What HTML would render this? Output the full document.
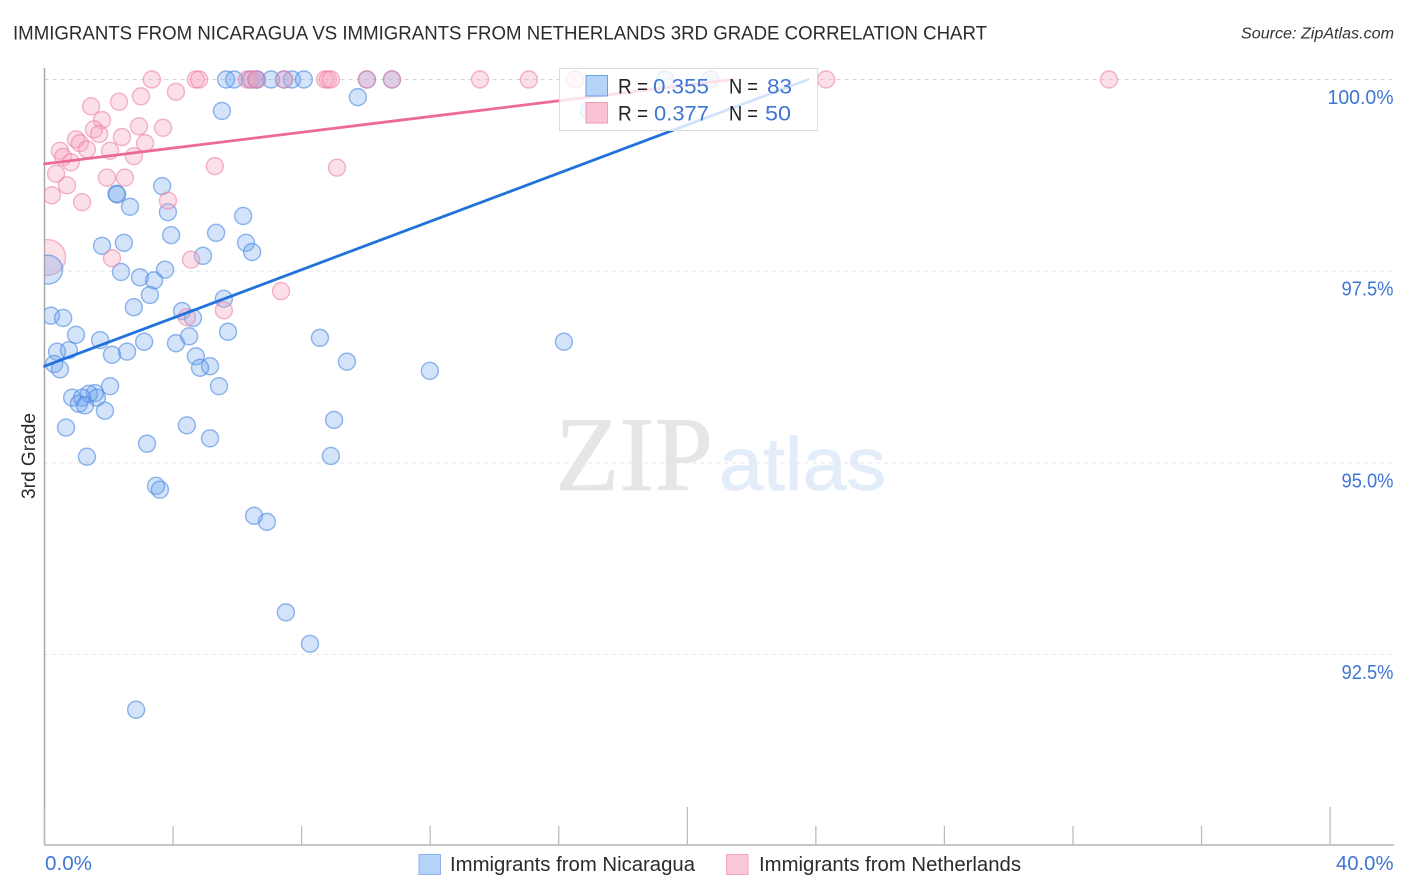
<!DOCTYPE html>
<html lang="en">
<head>
<meta charset="utf-8">
<title>Immigrants from Nicaragua vs Immigrants from Netherlands 3rd Grade Correlation Chart</title>
<style>
  html, body { margin: 0; padding: 0; background: #fff; }
  svg { display: block; font-family: "Liberation Sans", sans-serif; }
</style>
</head>
<body>
<svg id="chart" width="1406" height="892" viewBox="0 0 1406 892" xmlns="http://www.w3.org/2000/svg">
  <defs>
    <clipPath id="plot-clip"><rect x="44.5" y="60" width="1350" height="785"/></clipPath>
  </defs>
  <rect width="1406" height="892" fill="#ffffff"/>
  <text x="13" y="39.5" font-size="19.5" fill="#2b2b2b" textLength="974" lengthAdjust="spacingAndGlyphs">IMMIGRANTS FROM NICARAGUA VS IMMIGRANTS FROM NETHERLANDS 3RD GRADE CORRELATION CHART</text>
  <text x="1241" y="38.5" font-size="15.5" font-style="italic" fill="#333333" textLength="153" lengthAdjust="spacingAndGlyphs">Source: ZipAtlas.com</text>

  <g>
    <text x="555" y="490" font-family="'Liberation Serif', serif" font-size="106" fill="#e6e6e6" stroke="#e6e6e6" stroke-width="0.8" textLength="158" lengthAdjust="spacingAndGlyphs">ZIP</text>
    <text x="719" y="490" font-size="75" fill="#e3edf9" stroke="#e3edf9" stroke-width="0.8" textLength="167" lengthAdjust="spacingAndGlyphs">atlas</text>
  </g>

  <g id="grid"></g>
  <g id="axes"></g>
  <g id="points" clip-path="url(#plot-clip)"></g>
  <g id="trends"></g>

  <text transform="translate(35 499) rotate(-90)" font-size="19.5" fill="#2b2b2b" textLength="86" lengthAdjust="spacingAndGlyphs">3rd Grade</text>

  <g>
    <rect x="559.5" y="68.5" width="258" height="62" fill="#ffffff" fill-opacity="0.8" stroke="#dcdcdc" stroke-width="1"/>
    <rect x="586" y="75.5" width="21.5" height="20.5" fill="#a9cbf7" fill-opacity="0.85" stroke="#6f9fe3" stroke-width="1"/>
    <rect x="586" y="102.5" width="21.5" height="20.5" fill="#f9b9cd" fill-opacity="0.85" stroke="#f29ab7" stroke-width="1"/>
    <g font-size="21">
      <text x="618" y="93.5" fill="#222222" textLength="30" lengthAdjust="spacingAndGlyphs">R =</text>
      <text x="653" y="93.5" fill="#3f76d4" textLength="56" lengthAdjust="spacingAndGlyphs">0.355</text>
      <text x="729" y="93.5" fill="#222222" textLength="29" lengthAdjust="spacingAndGlyphs">N =</text>
      <text x="767" y="93.5" fill="#3f76d4" textLength="25" lengthAdjust="spacingAndGlyphs">83</text>
      <text x="618" y="120.5" fill="#222222" textLength="30" lengthAdjust="spacingAndGlyphs">R =</text>
      <text x="654" y="120.5" fill="#3f76d4" textLength="55" lengthAdjust="spacingAndGlyphs">0.377</text>
      <text x="729" y="120.5" fill="#222222" textLength="29" lengthAdjust="spacingAndGlyphs">N =</text>
      <text x="765" y="120.5" fill="#3f76d4" textLength="26" lengthAdjust="spacingAndGlyphs">50</text>
    </g>
  </g>

  <g>
    <rect x="419" y="854.5" width="21.5" height="20" fill="#b5d2f9" stroke="#8db4ec" stroke-width="1"/>
    <text x="450" y="871" font-size="20" fill="#2b2b2b" textLength="245" lengthAdjust="spacingAndGlyphs">Immigrants from Nicaragua</text>
    <rect x="726.5" y="854.5" width="21.5" height="20" fill="#fbc8d8" stroke="#f3a3bd" stroke-width="1"/>
    <text x="759" y="871" font-size="20" fill="#2b2b2b" textLength="262" lengthAdjust="spacingAndGlyphs">Immigrants from Netherlands</text>
  </g>
</svg>
<script>
const nicaraguaX = [5.65,5.90,6.39,6.58,6.61,7.05,7.45,7.70,8.07,10.03,10.81,19.31,20.71,5.52,9.75,16.94,3.66,2.24,2.26,2.66,3.84,6.18,3.94,5.34,1.79,2.47,6.27,6.46,4.93,2.38,3.75,2.97,3.41,3.28,2.78,5.58,4.28,0.20,0.58,0.98,1.73,0.39,0.76,0.30,0.48,2.10,2.57,3.10,4.62,4.09,4.50,5.71,4.71,5.15,4.84,5.43,2.04,0.86,1.57,1.38,1.63,1.17,1.07,1.26,1.88,0.67,1.32,3.19,4.43,5.15,3.47,3.59,6.52,6.92,7.51,8.26,2.85,8.57,9.41,11.99,16.16,9.01,8.91];
const nicaraguaY = [100,100,100,100,100,100,100,100,100,100,100,100,100,99.59,99.77,99.59,98.61,98.51,98.50,98.34,98.27,98.22,97.97,98.00,97.83,97.87,97.87,97.75,97.70,97.49,97.52,97.42,97.38,97.19,97.03,97.14,96.98,96.92,96.89,96.67,96.60,96.45,96.47,96.29,96.22,96.41,96.45,96.58,96.89,96.56,96.65,96.71,96.39,96.26,96.24,96.00,96.00,95.85,95.91,95.90,95.85,95.85,95.77,95.75,95.68,95.46,95.08,95.25,95.49,95.32,94.70,94.65,94.31,94.23,93.05,92.64,91.78,96.63,96.32,96.20,96.58,95.56,95.09];
const netherlandsX = [3.34,4.71,4.81,6.30,6.46,6.61,7.45,8.73,8.82,8.91,10.03,10.81,13.55,15.07,16.51,24.32,33.12,4.09,3.00,2.32,1.45,1.79,1.54,1.70,2.94,3.69,2.41,0.98,1.10,1.32,3.13,2.04,2.78,0.48,0.58,0.82,5.30,0.36,1.94,2.50,0.70,0.23,1.17,3.84,2.10,4.56,7.36,5.58,4.43,9.10];
const netherlandsY = [100,100,100,100,100,100,100,100,100,100,100,100,100,100,100,100,100,99.84,99.78,99.71,99.65,99.47,99.35,99.29,99.39,99.37,99.25,99.22,99.17,99.09,99.17,99.07,99.00,99.07,98.99,98.92,98.87,98.77,98.72,98.72,98.62,98.49,98.40,98.42,97.67,97.65,97.24,96.99,96.90,98.85];
const nicaraguaBigX = [0.11];
const nicaraguaBigY = [97.52];
const nicaraguaBigWeight = [2.9];
const netherlandsBigX = [0.10];
const netherlandsBigY = [97.68];
const netherlandsBigWeight = [4.4];
const nicaraguaTrendX = [0, 23.76];
const nicaraguaTrendY = [96.26, 100];
const netherlandsTrendX = [0, 21.4];
const netherlandsTrendY = [98.9, 100];
const yTickValues = [100, 97.5, 95, 92.5];
const yTickLabels = ["100.0%", "97.5%", "95.0%", "92.5%"];
const xTickValues = [0, 4, 8, 12, 16, 20, 24, 28, 32, 36, 40];
const xMajorTicks = [0, 20, 40];
const xEndLabels = ["0.0%", "40.0%"];

const NS = "http://www.w3.org/2000/svg";
const X0 = 44.5, PX_PER_X = 32.14, Y100 = 79.5, PX_PER_Y = 76.67;
const AXIS_Y = 845, RIGHT = 1394;
function xScale(v) { return X0 + v * PX_PER_X; }
function yScale(v) { return Y100 + (100 - v) * PX_PER_Y; }
function make(tag, attrs) {
  const el = document.createElementNS(NS, tag);
  for (const k in attrs) el.setAttribute(k, attrs[k]);
  return el;
}

const gridG = document.getElementById("grid");
yTickValues.forEach(function (v, i) {
  const line = make("line", { x1: X0, x2: RIGHT, y1: yScale(v), y2: yScale(v), stroke: i === 0 ? "#d4d4d4" : "#e4e4e4", "stroke-width": 1, "stroke-dasharray": "4 4" });
  
  
  gridG.appendChild(line);
});

const axesG = document.getElementById("axes");
const yAxis = make("line", { x1: X0, x2: X0, y1: 68, y2: AXIS_Y, stroke: "#a8a8a8", "stroke-width": 1.5 });


axesG.appendChild(yAxis);
const xAxis = make("line", { x1: X0, x2: RIGHT, y1: AXIS_Y, y2: AXIS_Y, stroke: "#b4b4b4", "stroke-width": 1.5 });


axesG.appendChild(xAxis);

xTickValues.forEach(function (v) {
  const major = xMajorTicks.indexOf(v) >= 0;
  const tick = make("line", { x1: xScale(v), x2: xScale(v), y1: major ? 807 : 826, y2: AXIS_Y, stroke: "#b8b8b8", "stroke-width": 1.2 });
  
  
  axesG.appendChild(tick);
});

yTickValues.forEach(function (v, i) {
  const w = yTickLabels[i].length > 5 ? 66 : 52;
  const t = make("text", { x: 1393.5 - w, y: yScale(v) + 24.5, "font-size": 20, fill: "#3f76d4", textLength: w, lengthAdjust: "spacingAndGlyphs" });
  
  
  t.textContent = yTickLabels[i];
  axesG.appendChild(t);
});

const xLabelLeft = make("text", { x: 45, y: 870, "font-size": 20, fill: "#3f76d4", textLength: 47, lengthAdjust: "spacingAndGlyphs" });


xLabelLeft.textContent = xEndLabels[0];
axesG.appendChild(xLabelLeft);
const xLabelRight = make("text", { x: 1336, y: 870, "font-size": 20, fill: "#3f76d4", textLength: 57.5, lengthAdjust: "spacingAndGlyphs" });


xLabelRight.textContent = xEndLabels[1];
axesG.appendChild(xLabelRight);

const pointsG = document.getElementById("points");
const BASE_R = 8.5;
const BLUE = { fill: "#6ba3ee", stroke: "#4f8ae0", fo: 0.3, so: 0.62 };
const PINK = { fill: "#f5a3bc", stroke: "#ec7fa3", fo: 0.34, so: 0.58 };
function drawDot(xv, yv, weight, style, name) {
  const c = make("circle", {
    cx: xScale(xv), cy: yScale(yv), r: BASE_R * Math.sqrt(weight),
    fill: style.fill, "fill-opacity": style.fo,
    stroke: style.stroke, "stroke-opacity": style.so, "stroke-width": 1.4
  });
  
  
  pointsG.appendChild(c);
}
netherlandsBigX.forEach(function (x, i) { drawDot(x, netherlandsBigY[i], netherlandsBigWeight[i], PINK, "netherlands-point"); });
nicaraguaBigX.forEach(function (x, i) { drawDot(x, nicaraguaBigY[i], nicaraguaBigWeight[i], BLUE, "nicaragua-point"); });
nicaraguaX.forEach(function (x, i) { drawDot(x, nicaraguaY[i], 1, BLUE, "nicaragua-point"); });
netherlandsX.forEach(function (x, i) { drawDot(x, netherlandsY[i], 1, PINK, "netherlands-point"); });

const trendsG = document.getElementById("trends");
const blueTrend = make("line", { x1: xScale(nicaraguaTrendX[0]), y1: yScale(nicaraguaTrendY[0]), x2: xScale(nicaraguaTrendX[1]), y2: yScale(nicaraguaTrendY[1]), stroke: "#2272de", "stroke-width": 2.8, "stroke-linecap": "round" });


trendsG.appendChild(blueTrend);
const pinkTrend = make("line", { x1: xScale(netherlandsTrendX[0]), y1: yScale(netherlandsTrendY[0]), x2: xScale(netherlandsTrendX[1]), y2: yScale(netherlandsTrendY[1]), stroke: "#ec6a96", "stroke-width": 2.8, "stroke-linecap": "round" });


trendsG.appendChild(pinkTrend);
</script>
</body>
</html>
